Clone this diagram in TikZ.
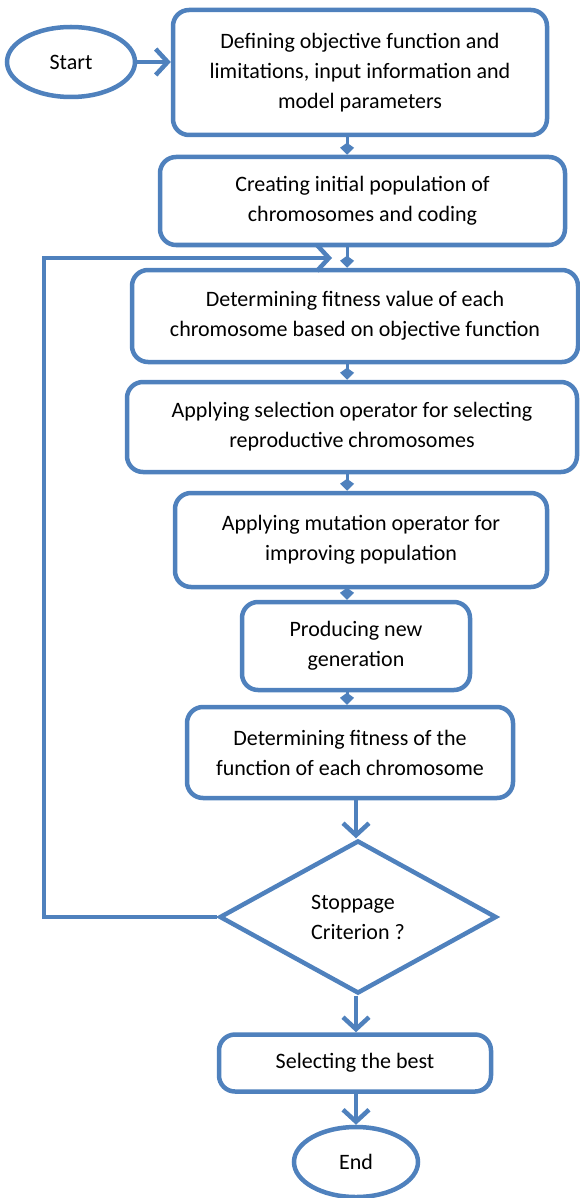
\documentclass[tikz,border=0pt]{standalone}
\usepackage{fontspec}
\setmainfont{Carlito}
\usetikzlibrary{arrows.meta, shapes.geometric}
\definecolor{flowblue}{RGB}{79,129,189}

\begin{document}
\begin{tikzpicture}[
x=1pt, y=-1pt,
font=\fontsize{22}{30}\selectfont,
procbox/.style={
rectangle,
rounded corners=16pt,
draw=flowblue,
line width=4.5pt,
align=center,
inner sep=0pt,
},
terminal/.style={
ellipse,
draw=flowblue,
line width=4.5pt,
inner sep=0pt,
},
decision/.style={
diamond,
draw=flowblue,
line width=4.5pt,
inner sep=0pt,
align=left,
},
flow/.style={draw=flowblue, line width=4.5pt, -{Straight Barb[length=12pt, width=26pt]}},
link/.style={draw=flowblue, line width=3pt, -{Kite[length=12pt, width=14pt, inset=5pt]}},
]

\useasboundingbox (0,0) rectangle (580,1198);

% columns for the connectors
\coordinate (axis) at (347,0);
\coordinate (axisb) at (356,0);

% start and first boxes
\node [terminal, minimum width=128pt, minimum height=70pt] at (71,62) (start) {Start};
\node [procbox, minimum width=374pt, minimum height=125pt] at (360,72.5) (b1)
{Defining objective function and\\limitations, input information and\\model parameters};
\node [procbox, minimum width=405pt, minimum height=88pt] at (362.5,201) (b2)
{Creating initial population of\\chromosomes and coding};

% loop body
\node [procbox, minimum width=446pt, minimum height=92pt] at (355,316) (b3)
{Determining fitness value of each\\chromosome based on objective function};
\node [procbox, minimum width=450pt, minimum height=90pt] at (352,427) (b4)
{Applying selection operator for selecting\\reproductive chromosomes};
\node [procbox, minimum width=372pt, minimum height=94pt] at (361,540) (b5)
{Applying mutation operator for\\improving population};
\node [procbox, minimum width=228pt, minimum height=88pt] at (356,646) (b6)
{Producing new\\generation};
\node [procbox, minimum width=326pt, minimum height=91pt] at (350,752.5) (b7)
{Determining fitness of the\\function of each chromosome};

% decision and end
\node [decision, minimum width=277pt, minimum height=153pt] at (358,917) (stop)
{Stoppage\\Criterion ?};
\node [procbox, minimum width=272pt, minimum height=57pt] at (355,1063) (best)
{Selecting the best};
\node [terminal, minimum width=124pt, minimum height=70pt] at (356,1162) (end) {End};

\draw [flow] (start.east) -- (start.east -| b1.west);

\draw [link] (b1.south -| axis) -- (b2.north -| axis);
\draw [link] (b2.south -| axis) -- (b3.north -| axis);
\draw [link] (b3.south -| axis) -- (b4.north -| axis);
\draw [link] (b4.south -| axis) -- (b5.north -| axis);
\draw [link] (b5.south -| axis) -- (b6.north -| axis);
\draw [link] (b6.south -| axis) -- (b7.north -| axis);

\draw [flow] (b7.south -| axisb) -- (stop.north -| axisb);
\draw [flow] (stop.south -| axisb) -- (best.north -| axisb);
\draw [flow] (best.south -| axisb) -- (end.north -| axisb);

% back to the fitness step
\coordinate (turn) at (44,258);
\coordinate (back) at (332,258);
\draw [flow] (stop.west) -| (turn) -- (back);

\end{tikzpicture}
\end{document}
